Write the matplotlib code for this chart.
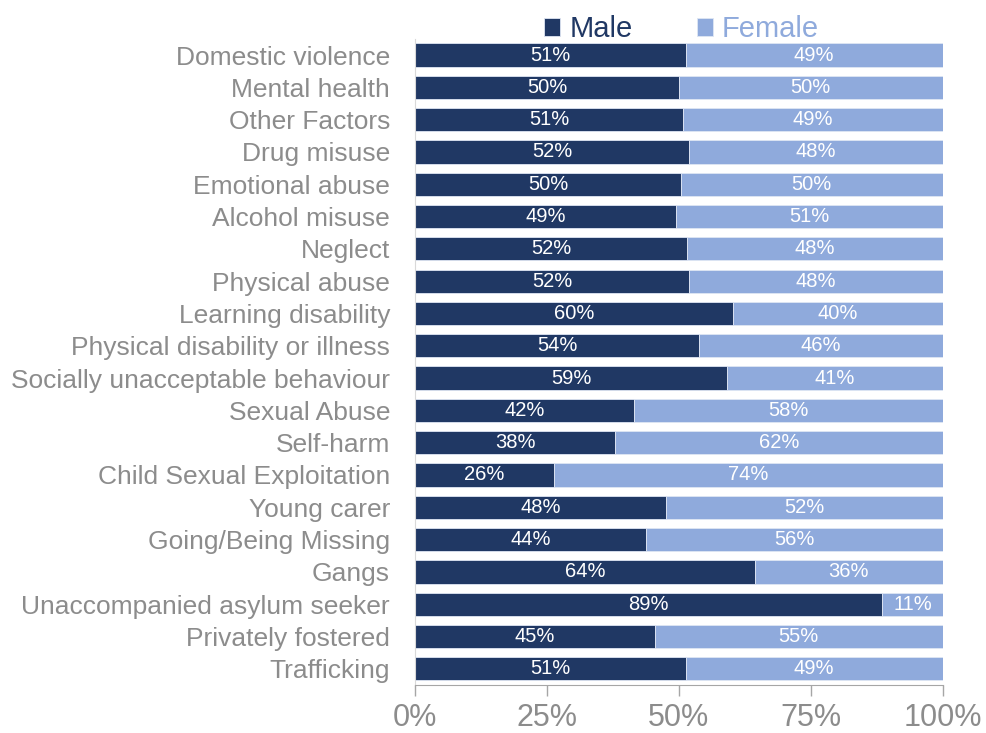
import matplotlib.pyplot as plt

plt.rcParams['font.family'] = ['Liberation Sans', 'DejaVu Sans']

# categories, top to bottom
categories = ["Domestic violence", "Mental health", "Other Factors", "Drug misuse",
              "Emotional abuse", "Alcohol misuse", "Neglect", "Physical abuse",
              "Learning disability", "Physical disability or illness",
              "Socially unacceptable behaviour", "Sexual Abuse", "Self-harm",
              "Child Sexual Exploitation", "Young carer", "Going/Being Missing",
              "Gangs", "Unaccompanied asylum seeker", "Privately fostered", "Trafficking"]
male = [51.3, 50.0, 50.8, 51.9, 50.4, 49.4, 51.5, 51.9, 60.2, 53.8,
        59.1, 41.5, 37.9, 26.3, 47.6, 43.8, 64.4, 88.6, 45.4, 51.3]
female = [100 - m for m in male]
ticks = [0, 25, 50, 75, 100]

navy = '#203864'
light = '#8faadc'
grey = '#8c8c8c'

fig = plt.figure(figsize=(9.86, 7.33), dpi=100)
ax = fig.add_axes([0.421, 0.0655, 0.535, 0.8815])

y = list(range(len(categories)))
ax.barh(y, male, height=0.72, color=navy, edgecolor='#dfe6f3', linewidth=0.6, label='Male')
ax.barh(y, female, left=male, height=0.72, color=light, edgecolor='#dfe6f3', linewidth=0.6, label='Female')

for i, (m, f) in enumerate(zip(male, female)):
    ax.text(m / 2, i, f"{round(m)}%", ha='center', va='center', color='white', fontsize=14.5)
    ax.text(m + f / 2, i, f"{round(f)}%", ha='center', va='center', color='white', fontsize=14.5)

ax.set_ylim(len(categories) - 0.5, -0.5)
ax.set_xlim(0, 100)
ax.set_yticks(y)
ax.set_yticklabels(categories, fontsize=19, color=grey)
ax.set_xticks(ticks)
ax.set_xticklabels([f"{t}%" for t in ticks], fontsize=22, color=grey)
ax.tick_params(axis='y', length=0, pad=18)
ax.tick_params(axis='x', length=8, color='#a6a6a6', width=1, pad=5)

for s in ['top', 'right']:
    ax.spines[s].set_visible(False)
ax.spines['left'].set_color('#d9d9d9')
ax.spines['bottom'].set_color('#a6a6a6')

leg = ax.legend(loc='lower center', bbox_to_anchor=(0.505, 0.975), ncol=2, frameon=False,
                fontsize=21, handlelength=0.55, handleheight=0.55, handletextpad=0.3,
                columnspacing=2.2, borderaxespad=0)
for txt, c in zip(leg.get_texts(), [navy, light]):
    txt.set_color(c)

fig.savefig('out.png', dpi=100)
